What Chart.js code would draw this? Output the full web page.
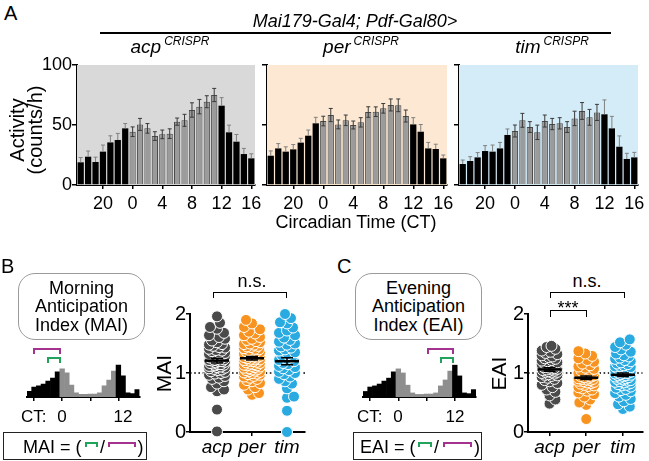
<!DOCTYPE html>
<html><head><meta charset="utf-8">
<script src="https://cdn.jsdelivr.net/npm/chart.js@4.4.1/dist/chart.umd.min.js"></script>
<style>
html,body{margin:0;padding:0;background:#fff;}
#fig{position:relative;width:649px;height:461px;overflow:hidden;font-family:'Liberation Sans',Arial,Helvetica,sans-serif;color:#000;}
#fig canvas{position:absolute;}
.t{position:absolute;white-space:nowrap;}
</style></head><body><div id="fig"></div>
<script>
// ---------- DATA ----------
const CT_LABELS = ['17','18','19','20','21','22','23','0','1','2','3','4','5','6','7','8','9','10','11','12','13','14','15','16'];
const CT_SHOWN = ['20','0','4','8','12','16'];
const ACP_ACTIVITY = [18.9, 23.6, 19.2, 27.8, 35.5, 37.5, 47.2, 44.4, 50.5, 47.2, 40.8, 42.2, 42.8, 52.8, 53.9, 62.5, 65.3, 69.4, 75.0, 66.1, 43.9, 36.1, 25.8, 22.2];
const ACP_SEM      = [4.0, 4.7, 4.0, 5.5, 5.5, 5.5, 4.0, 4.0, 5.0, 4.0, 3.6, 3.6, 4.0, 3.0, 5.0, 6.0, 6.0, 5.0, 5.5, 6.7, 6.0, 6.0, 4.7, 3.8];
const PER_ACTIVITY = [24.4, 30.5, 27.8, 29.7, 35.3, 41.1, 51.4, 53.3, 58.3, 50.5, 53.9, 50.0, 52.2, 60.8, 61.1, 63.9, 66.7, 66.4, 57.5, 50.5, 44.4, 30.5, 30.0, 22.2];
const PER_SEM      = [4.0, 4.0, 4.0, 4.0, 3.6, 4.7, 5.0, 4.0, 5.5, 3.7, 4.4, 3.3, 3.9, 4.4, 4.0, 4.0, 5.0, 5.3, 5.0, 5.6, 6.0, 5.0, 4.0, 2.8];
const TIM_ACTIVITY = [17.5, 20.0, 23.0, 28.3, 27.8, 30.5, 41.7, 45.0, 53.9, 48.3, 43.9, 53.3, 50.8, 51.4, 48.3, 55.5, 61.7, 56.4, 60.5, 58.9, 47.2, 31.9, 21.7, 23.0];
const TIM_SEM      = [3.3, 3.6, 4.0, 4.5, 5.5, 5.0, 5.0, 5.0, 5.8, 4.5, 6.0, 5.0, 4.7, 4.7, 4.5, 6.0, 7.0, 6.6, 6.7, 12.0, 10.0, 9.0, 4.7, 4.2];
const Y_TICKS = [0, 50, 100];

// schematic activity profile used in the MAI / EAI illustrations
const MINI_PROFILE = [15, 27, 30, 35, 43, 51, 68, 76, 65, 32, 11, 7, 7, 8, 8, 11, 30, 46, 70, 86, 57, 11, 9, 20];
const MINI_TICKS = ['18','0','6','12'];

const GENOTYPES = ['acp', 'per', 'tim'];
const MAI_ACP = [0.01,0.38,0.69,0.72,0.76,0.82,0.86,0.9,0.92,0.95,0.97,0.99,1.0,1.02,1.03,1.05,1.06,1.07,1.08,1.09,1.1,1.11,1.12,1.12,1.13,1.14,1.15,1.15,1.16,1.17,1.18,1.19,1.2,1.2,1.21,1.22,1.22,1.23,1.24,1.25,1.25,1.26,1.27,1.28,1.29,1.3,1.31,1.32,1.33,1.34,1.35,1.37,1.38,1.39,1.41,1.43,1.44,1.46,1.48,1.49,1.52,1.55,1.58,1.61,1.64,1.68,1.75,1.78,1.85,1.96];
const MAI_PER = [0.63,0.66,0.72,0.76,0.8,0.83,0.86,0.88,0.9,0.92,0.94,0.95,0.97,0.98,0.99,1.0,1.01,1.02,1.03,1.04,1.05,1.06,1.07,1.08,1.09,1.1,1.11,1.12,1.13,1.13,1.14,1.15,1.16,1.17,1.18,1.19,1.2,1.21,1.22,1.23,1.23,1.24,1.25,1.26,1.27,1.28,1.29,1.29,1.3,1.31,1.32,1.33,1.34,1.35,1.36,1.37,1.38,1.39,1.4,1.41,1.42,1.44,1.45,1.46,1.48,1.49,1.5,1.52,1.54,1.56,1.58,1.61,1.64,1.67,1.7,1.74,1.78,1.84,1.9];
const MAI_TIM = [0.0,0.36,0.58,0.6,0.74,0.82,0.86,0.9,0.94,0.98,1.0,1.02,1.05,1.08,1.1,1.12,1.15,1.17,1.2,1.22,1.24,1.27,1.3,1.32,1.35,1.38,1.4,1.43,1.45,1.48,1.5,1.53,1.56,1.6,1.64,1.68,1.72,1.77,1.84,1.86,1.93,2.0];
const MAI_MEAN = [1.21, 1.25, 1.2];
const MAI_SEM = [0.04, 0.03, 0.06];
const EAI_ACP = [0.48,0.55,0.62,0.68,0.72,0.76,0.8,0.83,0.86,0.88,0.9,0.92,0.93,0.95,0.96,0.97,0.98,0.99,1.0,1.01,1.02,1.02,1.03,1.04,1.05,1.06,1.06,1.07,1.08,1.09,1.1,1.11,1.12,1.13,1.14,1.15,1.16,1.17,1.18,1.2,1.21,1.22,1.24,1.25,1.27,1.28,1.3,1.32,1.34,1.36,1.38,1.41,1.44,1.46];
const EAI_PER = [0.22,0.46,0.5,0.55,0.6,0.64,0.67,0.7,0.72,0.74,0.76,0.78,0.79,0.8,0.82,0.83,0.84,0.85,0.86,0.87,0.88,0.89,0.9,0.9,0.91,0.92,0.93,0.94,0.95,0.96,0.97,0.98,0.99,1.0,1.01,1.02,1.04,1.05,1.07,1.09,1.11,1.13,1.16,1.19,1.22,1.25,1.29,1.33,1.37];
const EAI_TIM = [0.39,0.43,0.47,0.52,0.56,0.6,0.63,0.66,0.69,0.71,0.73,0.75,0.77,0.79,0.8,0.81,0.83,0.84,0.85,0.86,0.87,0.88,0.89,0.9,0.91,0.92,0.93,0.94,0.95,0.96,0.96,0.97,0.98,0.99,1.0,1.0,1.01,1.02,1.03,1.04,1.05,1.06,1.07,1.08,1.09,1.1,1.11,1.12,1.13,1.15,1.16,1.18,1.2,1.22,1.24,1.26,1.28,1.3,1.33,1.36,1.4,1.44,1.48,1.52,1.57];
const EAI_MEAN = [1.06, 0.92, 0.97];
const EAI_SEM = [0.03, 0.03, 0.03];
const INDEX_TICKS = [0, 1, 2];

// ---------- STYLE ----------
const FONT = "'Liberation Sans', Arial, Helvetica, sans-serif";
Chart.defaults.font.family = FONT;
Chart.defaults.color = '#000';
Chart.defaults.animation = false;
const GREY_BAR = '#9b9b9b', GREY_EDGE = '#4a4a4a';
const PANEL_BG = ['#d9d9d9', '#fde9d3', '#d4ecf8'];
const SWARM_COL = ['#4a4a4a', '#f7931e', '#29abe2'];
const MAGENTA = '#a3338f', GREEN = '#22a35c';

const fig = document.getElementById('fig');
const isDay = l => +l < 12;

function makeCanvas(x, y, w, h) {
  const c = document.createElement('canvas');
  c.width = w; c.height = h;
  c.style.left = x + 'px'; c.style.top = y + 'px';
  c.style.width = w + 'px'; c.style.height = h + 'px';
  fig.appendChild(c);
  return c;
}
function T(text, x, base, size, o = {}) {
  const d = document.createElement('div');
  d.className = 't';
  d.innerHTML = text;
  d.style.fontSize = size + 'px';
  d.style.lineHeight = size + 'px';
  d.style.left = x + 'px';
  d.style.top = (base - 0.847 * size) + 'px';
  if (o.italic) d.style.fontStyle = 'italic';
  if (o.center) d.style.transform = 'translateX(-50%)';
  fig.appendChild(d);
  return d;
}
function box(x, y, w, h, css) {
  const d = document.createElement('div');
  d.style.position = 'absolute';
  d.style.boxSizing = 'border-box';
  d.style.left = x + 'px'; d.style.top = y + 'px';
  d.style.width = w + 'px'; d.style.height = h + 'px';
  Object.assign(d.style, css);
  fig.appendChild(d);
  return d;
}
function bracket(x1, x2, top, h, color, bw) {
  return box(x1, top, x2 - x1, h, {borderTop: bw + 'px solid ' + color, borderLeft: bw + 'px solid ' + color, borderRight: bw + 'px solid ' + color});
}
function rotText(lines, cx, cy, size, lh) {
  const d = document.createElement('div');
  d.className = 't';
  d.innerHTML = lines.join('<br>');
  const h = lh * lines.length, w = 140;
  d.style.fontSize = size + 'px'; d.style.lineHeight = lh + 'px';
  d.style.width = w + 'px'; d.style.height = h + 'px'; d.style.textAlign = 'center';
  d.style.left = (cx - w / 2) + 'px'; d.style.top = (cy - h / 2) + 'px';
  d.style.transform = 'rotate(-90deg)';
  fig.appendChild(d);
}

// ---------- PLUGINS ----------
const panelBg = { id: 'panelBg', beforeDatasetsDraw(chart, a, opts) {
  const {ctx, chartArea: c} = chart; ctx.save(); ctx.fillStyle = opts.color;
  ctx.fillRect(c.left, c.top, c.right - c.left, c.bottom - c.top); ctx.restore(); } };
const errorBars = { id: 'errorBars', afterDatasetsDraw(chart) {
  const {ctx, scales: {y}} = chart; const ds = chart.data.datasets[0]; const meta = chart.getDatasetMeta(0);
  ctx.save(); ctx.lineWidth = 1;
  meta.data.forEach((bar, i) => {
    const v = ds.data[i], e = ds.errs[i], day = isDay(CT_LABELS[i]);
    const x = bar.x, top = y.getPixelForValue(v + e), mid = y.getPixelForValue(v), bot = y.getPixelForValue(v - e);
    ctx.strokeStyle = day ? '#3a3a3a' : '#808080';
    ctx.beginPath();
    ctx.moveTo(x, day ? bot : mid); ctx.lineTo(x, top);
    ctx.moveTo(x - 2, top); ctx.lineTo(x + 2, top);
    if (day) { ctx.moveTo(x - 2, bot); ctx.lineTo(x + 2, bot); }
    ctx.stroke();
  });
  ctx.restore(); } };
const swarmDeco = { id: 'swarmDeco',
  beforeDatasetsDraw(chart, a, opts) {
    const {ctx, chartArea: c, scales: {y}} = chart; const py = y.getPixelForValue(opts.ref);
    ctx.save(); ctx.setLineDash([1.6, 2.6]); ctx.lineWidth = 1.6; ctx.strokeStyle = '#000';
    ctx.beginPath(); ctx.moveTo(c.left, py); ctx.lineTo(c.right, py); ctx.stroke(); ctx.restore(); },
  afterDatasetsDraw(chart, a, opts) {
    const {ctx, scales: {x, y}} = chart; ctx.save(); ctx.strokeStyle = '#000';
    opts.mean.forEach((m, i) => {
      const cx = x.getPixelForValue(i + 1), pm = y.getPixelForValue(m);
      const pt = y.getPixelForValue(m + opts.sem[i]), pb = y.getPixelForValue(m - opts.sem[i]);
      ctx.lineWidth = 2.5; ctx.beginPath(); ctx.moveTo(cx - 12, pm); ctx.lineTo(cx + 12, pm); ctx.stroke();
      ctx.lineWidth = 1.5; ctx.beginPath();
      ctx.moveTo(cx, pt); ctx.lineTo(cx, pb);
      ctx.moveTo(cx - 6, pt); ctx.lineTo(cx + 6, pt);
      ctx.moveTo(cx - 6, pb); ctx.lineTo(cx + 6, pb); ctx.stroke();
    });
    ctx.restore(); } };

// ---------- CHARTS ----------
function activityChart(r, area, values, errs, bg, showY) {
  const c = makeCanvas(r.x, r.y, r.w, r.h);
  return new Chart(c, {
    type: 'bar',
    data: { labels: CT_LABELS, datasets: [{ data: values, errs,
      backgroundColor: CT_LABELS.map(l => isDay(l) ? GREY_BAR : '#000'),
      borderColor: CT_LABELS.map(l => isDay(l) ? GREY_EDGE : '#000'),
      borderWidth: CT_LABELS.map(l => isDay(l) ? 1 : 0),
      barPercentage: 0.84, categoryPercentage: 1 }] },
    options: {
      responsive: false, animation: false, events: [],
      layout: { padding: { left: 0, top: area.t - r.y, right: r.x + r.w - area.r, bottom: 0 } },
      plugins: { legend: { display: false }, tooltip: { enabled: false }, panelBg: { color: bg } },
      scales: {
        x: { grid: { display: true, drawOnChartArea: false, offset: false, tickLength: 4, lineWidth: 1.5,
                     color: ctx => CT_SHOWN.includes(CT_LABELS[ctx.index]) ? '#000' : 'rgba(0,0,0,0)' },
             border: { display: true, color: '#000', width: 2 },
             ticks: { autoSkip: false, maxRotation: 0, minRotation: 0, padding: 4, color: '#000', font: { size: 18 },
                      callback: (v, i) => CT_SHOWN.includes(CT_LABELS[i]) ? CT_LABELS[i] : '' },
             afterFit: s => { s.height = r.y + r.h - area.b; } },
        y: { min: 0, max: 100,
             afterBuildTicks: s => { s.ticks = Y_TICKS.map(v => ({ value: v })); },
             grid: { display: true, drawOnChartArea: false, tickLength: 5, lineWidth: 1.5, color: '#000' },
             border: { display: true, color: '#000', width: 2 },
             ticks: { display: showY, padding: 0, color: '#000', font: { size: 18 } },
             afterFit: s => { s.width = area.l - r.x; } }
      }
    },
    plugins: [panelBg, errorBars]
  });
}
function miniChart(r, area) {
  const c = makeCanvas(r.x, r.y, r.w, r.h);
  return new Chart(c, {
    type: 'bar',
    data: { labels: CT_LABELS, datasets: [{ data: MINI_PROFILE,
      backgroundColor: CT_LABELS.map(l => isDay(l) ? '#8e8e8e' : '#000'),
      borderWidth: 0, barPercentage: 1, categoryPercentage: 1 }] },
    options: {
      responsive: false, animation: false, events: [],
      layout: { padding: { left: area.l - r.x, top: area.t - r.y, right: r.x + r.w - area.r, bottom: 0 } },
      plugins: { legend: { display: false }, tooltip: { enabled: false } },
      scales: {
        x: { grid: { display: true, drawOnChartArea: false, offset: false, tickLength: 4, lineWidth: 1.5,
                     color: ctx => MINI_TICKS.includes(CT_LABELS[ctx.index]) ? '#000' : 'rgba(0,0,0,0)' },
             border: { display: true, color: '#000', width: 2 },
             ticks: { display: false },
             afterFit: s => { s.height = r.y + r.h - area.b; } },
        y: { display: false, min: 0, max: 100 }
      }
    }
  });
}
function swarm(values, center, pxX, pxY, minD, maxOff) {
  const sorted = values.slice().sort((a, b) => a - b);
  const placed = [], out = [];
  sorted.forEach((v, idx) => {
    const py = v * pxY;
    let best = 0, bestScore = -1, found = false;
    for (let k = 0; k <= maxOff && !found; k += 1) {
      const cands = k === 0 ? [0] : (idx % 2 ? [k, -k] : [-k, k]);
      for (const s of cands) {
        let md = Infinity;
        for (const p of placed) {
          const dy = p.py - py; if (Math.abs(dy) >= minD) continue;
          const d = Math.hypot(p.px - s, dy); if (d < md) md = d;
        }
        if (md >= minD) { best = s; found = true; break; }
        if (md > bestScore) { bestScore = md; best = s; }
      }
    }
    placed.push({ px: best, py });
    out.push({ x: center + best / pxX, y: v });
  });
  return out;
}
function swarmChart(r, area, groups, mean, sem, xmin, xmax) {
  const c = makeCanvas(r.x, r.y, r.w, r.h);
  const pxX = (area.r - area.l) / (xmax - xmin), pxY = (area.b - area.t) / 2;
  return new Chart(c, {
    type: 'scatter',
    data: { datasets: groups.map((g, i) => ({ data: swarm(g, i + 1, pxX, pxY, 6.5, 8),
      backgroundColor: SWARM_COL[i], pointBorderColor: '#fff', pointBorderWidth: 1, pointRadius: 5.5, clip: false })) },
    options: {
      responsive: false, animation: false, events: [],
      layout: { padding: { left: 0, top: area.t - r.y, right: r.x + r.w - area.r, bottom: 0 } },
      plugins: { legend: { display: false }, tooltip: { enabled: false }, swarmDeco: { ref: 1, mean, sem } },
      scales: {
        x: { type: 'linear', min: xmin, max: xmax,
             afterBuildTicks: s => { s.ticks = GENOTYPES.map((g, i) => ({ value: i + 1 })); },
             grid: { display: true, drawOnChartArea: false, tickLength: 4, lineWidth: 1.5, color: '#000' },
             border: { display: true, color: '#000', width: 2 },
             ticks: { padding: 0, color: '#000', font: { size: 19, style: 'italic' }, maxRotation: 0,
                      callback: v => GENOTYPES[Math.round(v) - 1] },
             afterFit: s => { s.height = r.y + r.h - area.b; } },
        y: { min: 0, max: 2,
             afterBuildTicks: s => { s.ticks = INDEX_TICKS.map(v => ({ value: v })); },
             grid: { display: true, drawOnChartArea: false, tickLength: 4, lineWidth: 1.5, color: '#000' },
             border: { display: true, color: '#000', width: 2 },
             ticks: { padding: 0, color: '#000', font: { size: 20 } },
             afterFit: s => { s.width = area.l - r.x; } }
      }
    },
    plugins: [swarmDeco]
  });
}

// Panel A
activityChart({x: 0, y: 50, w: 267, h: 170}, {l: 77, t: 65, r: 255, b: 185}, ACP_ACTIVITY, ACP_SEM, PANEL_BG[0], true);
activityChart({x: 257, y: 50, w: 202, h: 170}, {l: 267, t: 65, r: 447, b: 185}, PER_ACTIVITY, PER_SEM, PANEL_BG[1], false);
activityChart({x: 449, y: 50, w: 200, h: 170}, {l: 459, t: 65, r: 638, b: 185}, TIM_ACTIVITY, TIM_SEM, PANEL_BG[2], false);

// Panels B, C illustrations
miniChart({x: 17, y: 350, w: 135, h: 55}, {l: 27, t: 360, r: 139.5, b: 397});
miniChart({x: 353, y: 350, w: 135, h: 55}, {l: 363, t: 360, r: 476, b: 397});

// Swarm plots
swarmChart({x: 150, y: 298, w: 168, h: 163}, {l: 190, t: 314, r: 305, b: 432}, [MAI_ACP, MAI_PER, MAI_TIM], MAI_MEAN, MAI_SEM, 1 - 27 / 35, 3 + 18 / 35);
swarmChart({x: 488, y: 298, w: 161, h: 163}, {l: 528, t: 314, r: 645, b: 432}, [EAI_ACP, EAI_PER, EAI_TIM], EAI_MEAN, EAI_SEM, 1 - 22 / 37.5, 3 + 20 / 37.5);

// ---------- TEXT ----------
const SUP = s => '<span style="font-size:12px;position:relative;top:-8px;margin-left:3px">' + s + '</span>';
T('A', 4, 20, 20);
T('Mai179-Gal4; Pdf-Gal80&gt;', 355, 27, 18, {italic: true, center: true});
box(100, 32, 511, 1.6, {background: '#000'});
T('acp' + SUP('CRISPR'), 170, 53, 19, {italic: true, center: true});
T('per' + SUP('CRISPR'), 361, 53, 19, {italic: true, center: true});
T('tim' + SUP('CRISPR'), 552, 53, 19, {italic: true, center: true});
rotText(['Activity', '(counts/h)'], 25.5, 130, 20, 18);
T('Circadian Time (CT)', 356, 228, 18, {center: true});

// B
T('B', 1, 273, 20);
box(18, 273, 127, 67, {border: '1.5px solid #9a9a9a', borderRadius: '17px'});
T('Morning', 81.5, 294, 18, {center: true});
T('Anticipation', 81.5, 312.5, 18, {center: true});
T('Index (MAI)', 81.5, 331, 18, {center: true});
bracket(33, 61, 348, 6, MAGENTA, 2.5);
bracket(47, 61, 357, 6, GREEN, 2.5);
T('CT:', 21, 422, 17);
T('0', 62, 422, 17, {center: true});
T('12', 123, 422, 17, {center: true});
box(3, 432, 144, 28, {border: '1px solid #222'});
T('MAI = (', 23, 453, 18);
bracket(85, 98, 442, 5, GREEN, 2.5);
T('/', 100, 453, 18);
bracket(108, 136, 442, 5, MAGENTA, 2.5);
T(')', 137.5, 453, 18);
rotText(['MAI'], 163, 373, 21, 21);
T('n.s.', 252, 287, 18, {center: true});
bracket(213, 287, 292, 5.5, '#000', 1.5);

// C
T('C', 337, 273, 20);
box(355, 273, 127, 67, {border: '1.5px solid #9a9a9a', borderRadius: '17px'});
T('Evening', 418.5, 294, 18, {center: true});
T('Anticipation', 418.5, 312.5, 18, {center: true});
T('Index (EAI)', 418.5, 331, 18, {center: true});
bracket(427, 454, 348, 6, MAGENTA, 2.5);
bracket(440, 454, 357, 6, GREEN, 2.5);
T('CT:', 357, 422, 17);
T('0', 398, 422, 17, {center: true});
T('12', 455, 422, 17, {center: true});
box(353, 432, 129, 28, {border: '1px solid #222'});
T('EAI = (', 360, 453, 18);
bracket(418, 432, 442, 5, GREEN, 2.5);
T('/', 434, 453, 18);
bracket(443, 472, 442, 5, MAGENTA, 2.5);
T(')', 474, 453, 18);
rotText(['EAI'], 498, 373, 21, 21);
T('n.s.', 587, 287, 18, {center: true});
bracket(550, 625, 292, 5.5, '#000', 1.5);
T('***', 568, 314, 18, {center: true});
bracket(550, 587, 310, 7, '#000', 1.5);
</script></body></html>
